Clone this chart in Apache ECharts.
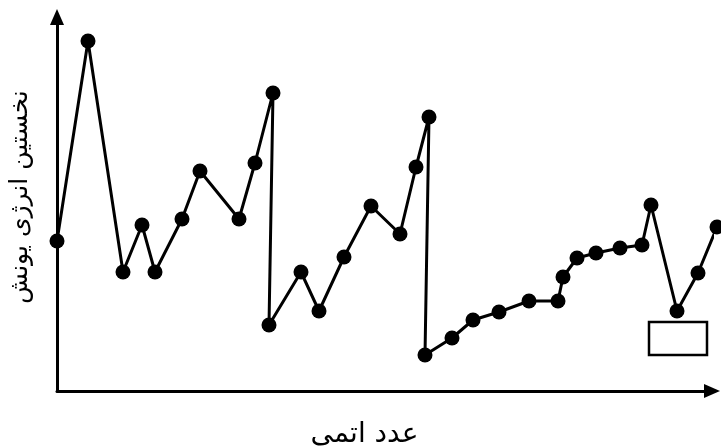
<!DOCTYPE html>
<html>
<head>
<meta charset="utf-8">
<script src="https://cdn.jsdelivr.net/npm/echarts@6/dist/echarts.min.js"></script>
<style>
  html, body { margin: 0; padding: 0; background: #fff; }
  #chart { width: 721px; height: 447px; }
</style>
</head>
<body>
<div id="chart"></div>
<script>
// Elements H → As, in order of atomic number
const elements = ['H','He','Li','Be','B','C','N','O','F','Ne','Na','Mg','Al','Si','P','S','Cl','Ar',
  'K','Ca','Sc','Ti','V','Cr','Mn','Fe','Co','Ni','Cu','Zn','Ga','Ge','As'];

// Horizontal position of each element along the atomic-number axis (schematic units)
const positions = [0, 31, 66, 85, 98, 125, 143, 182, 198, 216, 212, 244, 262, 287, 314, 343, 359, 372,
  368, 395, 416, 442, 472, 501, 506, 520, 539, 563, 585, 594, 620, 641, 660];

// First ionization energy (relative units)
const energies = [150, 350, 119, 166, 119, 172, 220, 172, 228, 298, 66, 119, 80, 134, 185, 157, 224, 274,
  36, 53, 71, 79, 90, 90, 114, 133, 138, 143, 146, 186, 80, 118, 164];

// Empty answer box below the Ga minimum: [x0, y0] → [x1, y1]
const boxFrom = [592, 36];
const boxTo = [650, 69];

const axisTitleX = 'عدد اتمی';
const axisTitleY = 'نخستین انرژی یونش';

const points = positions.map((x, i) => [x, energies[i]]);

const arrowHead = 'triangle';

const chart = echarts.init(document.getElementById('chart'));
chart.setOption({
  animation: false,
  backgroundColor: '#ffffff',
  grid: { left: 57, right: 9, top: 17, bottom: 56, containLabel: false, outerBoundsMode: 'none' },
  xAxis: {
    type: 'value', min: 0, max: 655,
    name: axisTitleX,
    nameLocation: 'middle',
    nameGap: 30,
    nameTextStyle: { fontFamily: 'DejaVu Sans', fontSize: 28, color: '#000', padding: [0, 40, 0, 0] },
    axisLine: { show: true, symbol: ['none', arrowHead], symbolSize: [14, 16],
      lineStyle: { color: '#000', width: 3 } },
    axisTick: { show: false }, axisLabel: { show: false }, splitLine: { show: false }
  },
  yAxis: {
    type: 'value', min: 0, max: 374,
    name: axisTitleY,
    nameLocation: 'middle',
    nameRotate: 90,
    nameGap: 24,
    nameTextStyle: { fontFamily: 'DejaVu Sans', fontSize: 25, color: '#000', padding: [0, 0, 0, 14] },
    axisLine: { show: true, symbol: ['none', arrowHead], symbolSize: [14, 16],
      lineStyle: { color: '#000', width: 3 } },
    axisTick: { show: false }, axisLabel: { show: false }, splitLine: { show: false }
  },
  series: [{
    type: 'line',
    data: points,
    clip: false,
    symbol: 'circle',
    symbolSize: 15,
    itemStyle: { color: '#000' },
    lineStyle: { color: '#000', width: 3 },
    markArea: {
      silent: true,
      itemStyle: { color: '#fff', borderColor: '#000', borderWidth: 2.5 },
      data: [[{ coord: boxFrom }, { coord: boxTo }]]
    }
  }]
});
</script>
</body>
</html>
